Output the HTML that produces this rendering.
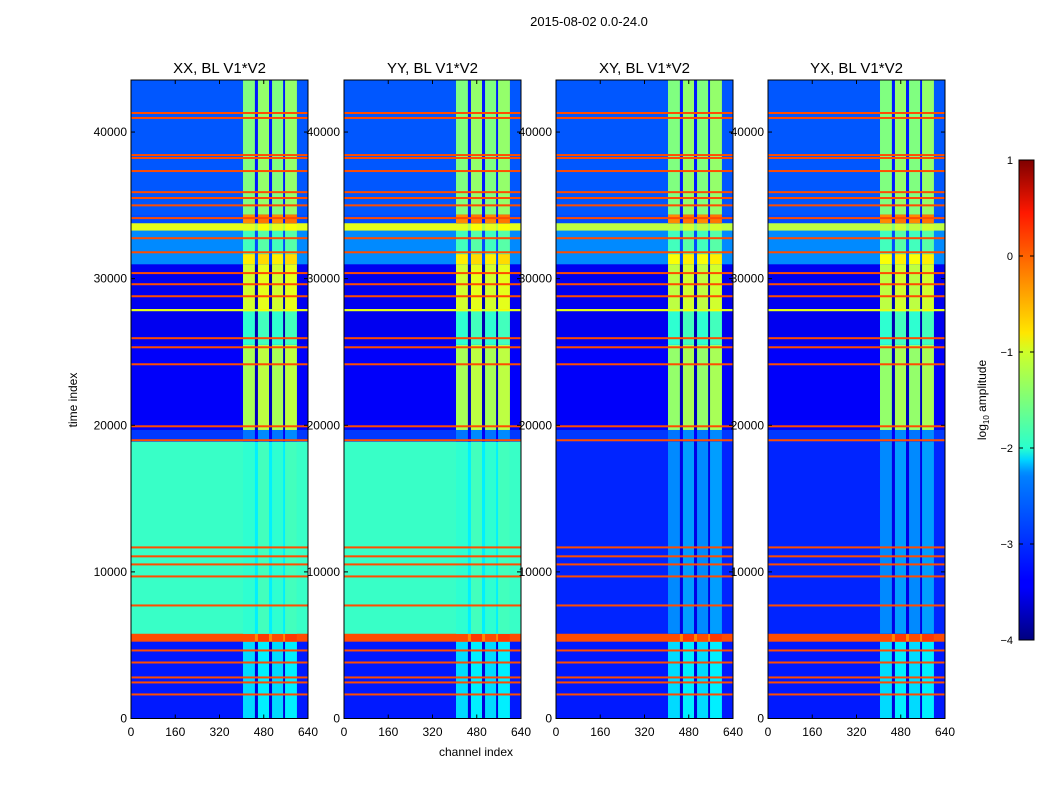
<!DOCTYPE html>
<html><head><meta charset="utf-8"><style>
body{margin:0;background:#fff;}
svg text{font-family:"Liberation Sans",sans-serif;fill:#000;}
</style></head><body>
<svg id="fig" width="1050" height="800" xmlns="http://www.w3.org/2000/svg">
<defs>
<linearGradient id="jet" x1="0" y1="1" x2="0" y2="0">
<stop offset="0" stop-color="#00007f"/><stop offset="0.11" stop-color="#0000ff"/><stop offset="0.125" stop-color="#0000ff"/>
<stop offset="0.34" stop-color="#0080ff"/><stop offset="0.35" stop-color="#0090ff"/><stop offset="0.375" stop-color="#00d4ff"/>
<stop offset="0.4" stop-color="#29ffce"/><stop offset="0.5" stop-color="#7dff7a"/><stop offset="0.6" stop-color="#ceff29"/>
<stop offset="0.64" stop-color="#ffe600"/><stop offset="0.75" stop-color="#ff8c00"/><stop offset="0.89" stop-color="#ff1800"/>
<stop offset="1" stop-color="#7f0000"/>
</linearGradient>
</defs>
<text x="589" y="26" font-size="13" text-anchor="middle">2015-08-02 0.0-24.0</text>
<text x="476" y="756" font-size="12" text-anchor="middle">channel index</text>
<text transform="translate(77,400) rotate(-90)" font-size="12" text-anchor="middle">time index</text>
<g id="panels"></g>
<g>
<rect x="1019" y="160" width="15" height="480" fill="url(#jet)" stroke="#000" stroke-width="1"/>
<g id="cbticks"></g>
<text transform="translate(986,400) rotate(-90)" font-size="12" text-anchor="middle">log<tspan font-size="8" dy="3">10</tspan><tspan dy="-3"> amplitude</tspan></text>
</g>
</svg>
<script>
const panelTitles = ["XX, BL V1*V2","YY, BL V1*V2","XY, BL V1*V2","YX, BL V1*V2"];
const panelIsCross = [false,false,true,true];
const xTicks = [0,160,320,480,640];
const yTicks = [0,10000,20000,30000,40000];
const cbTicks = [1,0,-1,-2,-3,-4];
const segStart = [0,5260,5800,18900,19700,25500,27800,27950,31000,31700,33300,33800,34400];
const segEnd   = [5260,5800,18900,19700,25500,27800,27950,31000,31700,33300,33800,34400,43550];
const bgCo     = [-3.25,0,-1.85,-3.1,-3.4,-3.45,-1.0,-3.45,-2.7,-2.7,-1.0,-3.0,-2.95];
const stripeCo = [-2.3,0,-1.9,-2.8,-1.3,-1.9,-1.0,-1.1,-0.8,-1.8,-1.0,-0.3,-1.5];
const bgCross  = [-3.25,0,-3.2,-3.1,-3.4,-3.45,-1.0,-3.45,-2.7,-2.7,-1.2,-3.0,-2.95];
const stripeCross = [-2.3,0,-2.7,-2.8,-1.4,-1.9,-1.0,-1.2,-0.9,-1.8,-1.2,-0.3,-1.5];
const stripeCh0 = [405,459,510,557];
const stripeCh1 = [448,499,550,600];
const rfiTimes = [41300,40960,38430,38230,37340,35900,35500,35000,34130,32760,31800,30380,29620,28800,25940,25320,24160,19930,18980,11670,11060,10510,9690,7710,4640,3820,2800,2460,1640];
const panelX0 = [131,344,556,768];
const PW=177, PY0=80, PY1=718.5, CHMAX=640, TMAX=43550;

function jet(v){
  let x=(v+4)/5; x=Math.max(0,Math.min(1,x));
  const f=(a)=>Math.max(0,Math.min(1,a));
  const r=f(Math.min(4*x-1.5,-4*x+4.5)), g=f(Math.min(4*x-0.5,-4*x+3.5)), b=f(Math.min(4*x+0.5,-4*x+2.5));
  return `rgb(${Math.round(r*255)},${Math.round(g*255)},${Math.round(b*255)})`;
}
const NS="http://www.w3.org/2000/svg";
function mk(tag,attrs,parent){const e=document.createElementNS(NS,tag);for(const k in attrs)e.setAttribute(k,attrs[k]);parent.appendChild(e);return e;}
const yScale=t=>PY1-(t/TMAX)*(PY1-PY0);
const panels=document.getElementById('panels');
panelTitles.forEach((title,p)=>{
  const x0=panelX0[p]; const xs=c=>x0+c/CHMAX*PW;
  const g=mk('g',{},panels);
  
  
  const bg = panelIsCross[p]?bgCross:bgCo, st = panelIsCross[p]?stripeCross:stripeCo;
  for(let i=0;i<segStart.length;i++){
    const y1=yScale(segEnd[i]), y0=yScale(segStart[i]);
    const r=mk('rect',{x:x0,y:y1,width:PW,height:y0-y1+0.3,fill:jet(bg[i])},g);
    
    
    const gr=mk('rect',{x:xs(stripeCh0[0]),y:y1,width:xs(stripeCh1[3])-xs(stripeCh0[0]),height:y0-y1+0.3,fill:jet(Math.min(bg[i],st[i])-0.3)},g);
    
    
    for(let s=0;s<stripeCh0.length;s++){
      const sr=mk('rect',{x:xs(stripeCh0[s]),y:y1,width:xs(stripeCh1[s])-xs(stripeCh0[s]),height:y0-y1+0.3,fill:jet(st[i]+(s%2?0.1:0))},g);
      
      
    }
  }
  rfiTimes.forEach(t=>{
    const l=mk('rect',{x:x0,y:yScale(t)-1,width:PW,height:2,fill:jet(0)},g);
    
    
  });
  mk('rect',{x:x0,y:PY0,width:PW,height:PY1-PY0,fill:'none',stroke:'#000','stroke-width':1},g);
  const tt=mk('text',{x:x0+PW/2,y:73,'font-size':15,'text-anchor':'middle'},g);
  tt.textContent=title;
  
  
  xTicks.forEach(v=>{
    const x=xs(v);
    mk('line',{x1:x,x2:x,y1:PY1,y2:PY1-4,stroke:'#000'},g);
    mk('line',{x1:x,x2:x,y1:PY0,y2:PY0+4,stroke:'#000'},g);
    const t=mk('text',{x:x,y:736,'font-size':12,'text-anchor':'middle'},g);
    t.textContent=v;
    
    
  });
  yTicks.forEach(v=>{
    const y=yScale(v);
    mk('line',{x1:x0,x2:x0+4,y1:y,y2:y,stroke:'#000'},g);
    mk('line',{x1:x0+PW,x2:x0+PW-4,y1:y,y2:y,stroke:'#000'},g);
    const t=mk('text',{x:x0-4,y:y+4,'font-size':12,'text-anchor':'end'},g);
    t.textContent=v;
    
    
  });
});
const cb=document.getElementById('cbticks');
cbTicks.forEach(v=>{
  const y=640-(v+4)/5*480;
  mk('line',{x1:1019,x2:1023,y1:y,y2:y,stroke:'#000'},cb);
  mk('line',{x1:1034,x2:1030,y1:y,y2:y,stroke:'#000'},cb);
  const t=mk('text',{x:1013,y:y+4,'font-size':11,'text-anchor':'end'},cb);
  t.textContent=(v<0?'\u2212'+(-v):v);
  
  
});
</script>
</body></html>
